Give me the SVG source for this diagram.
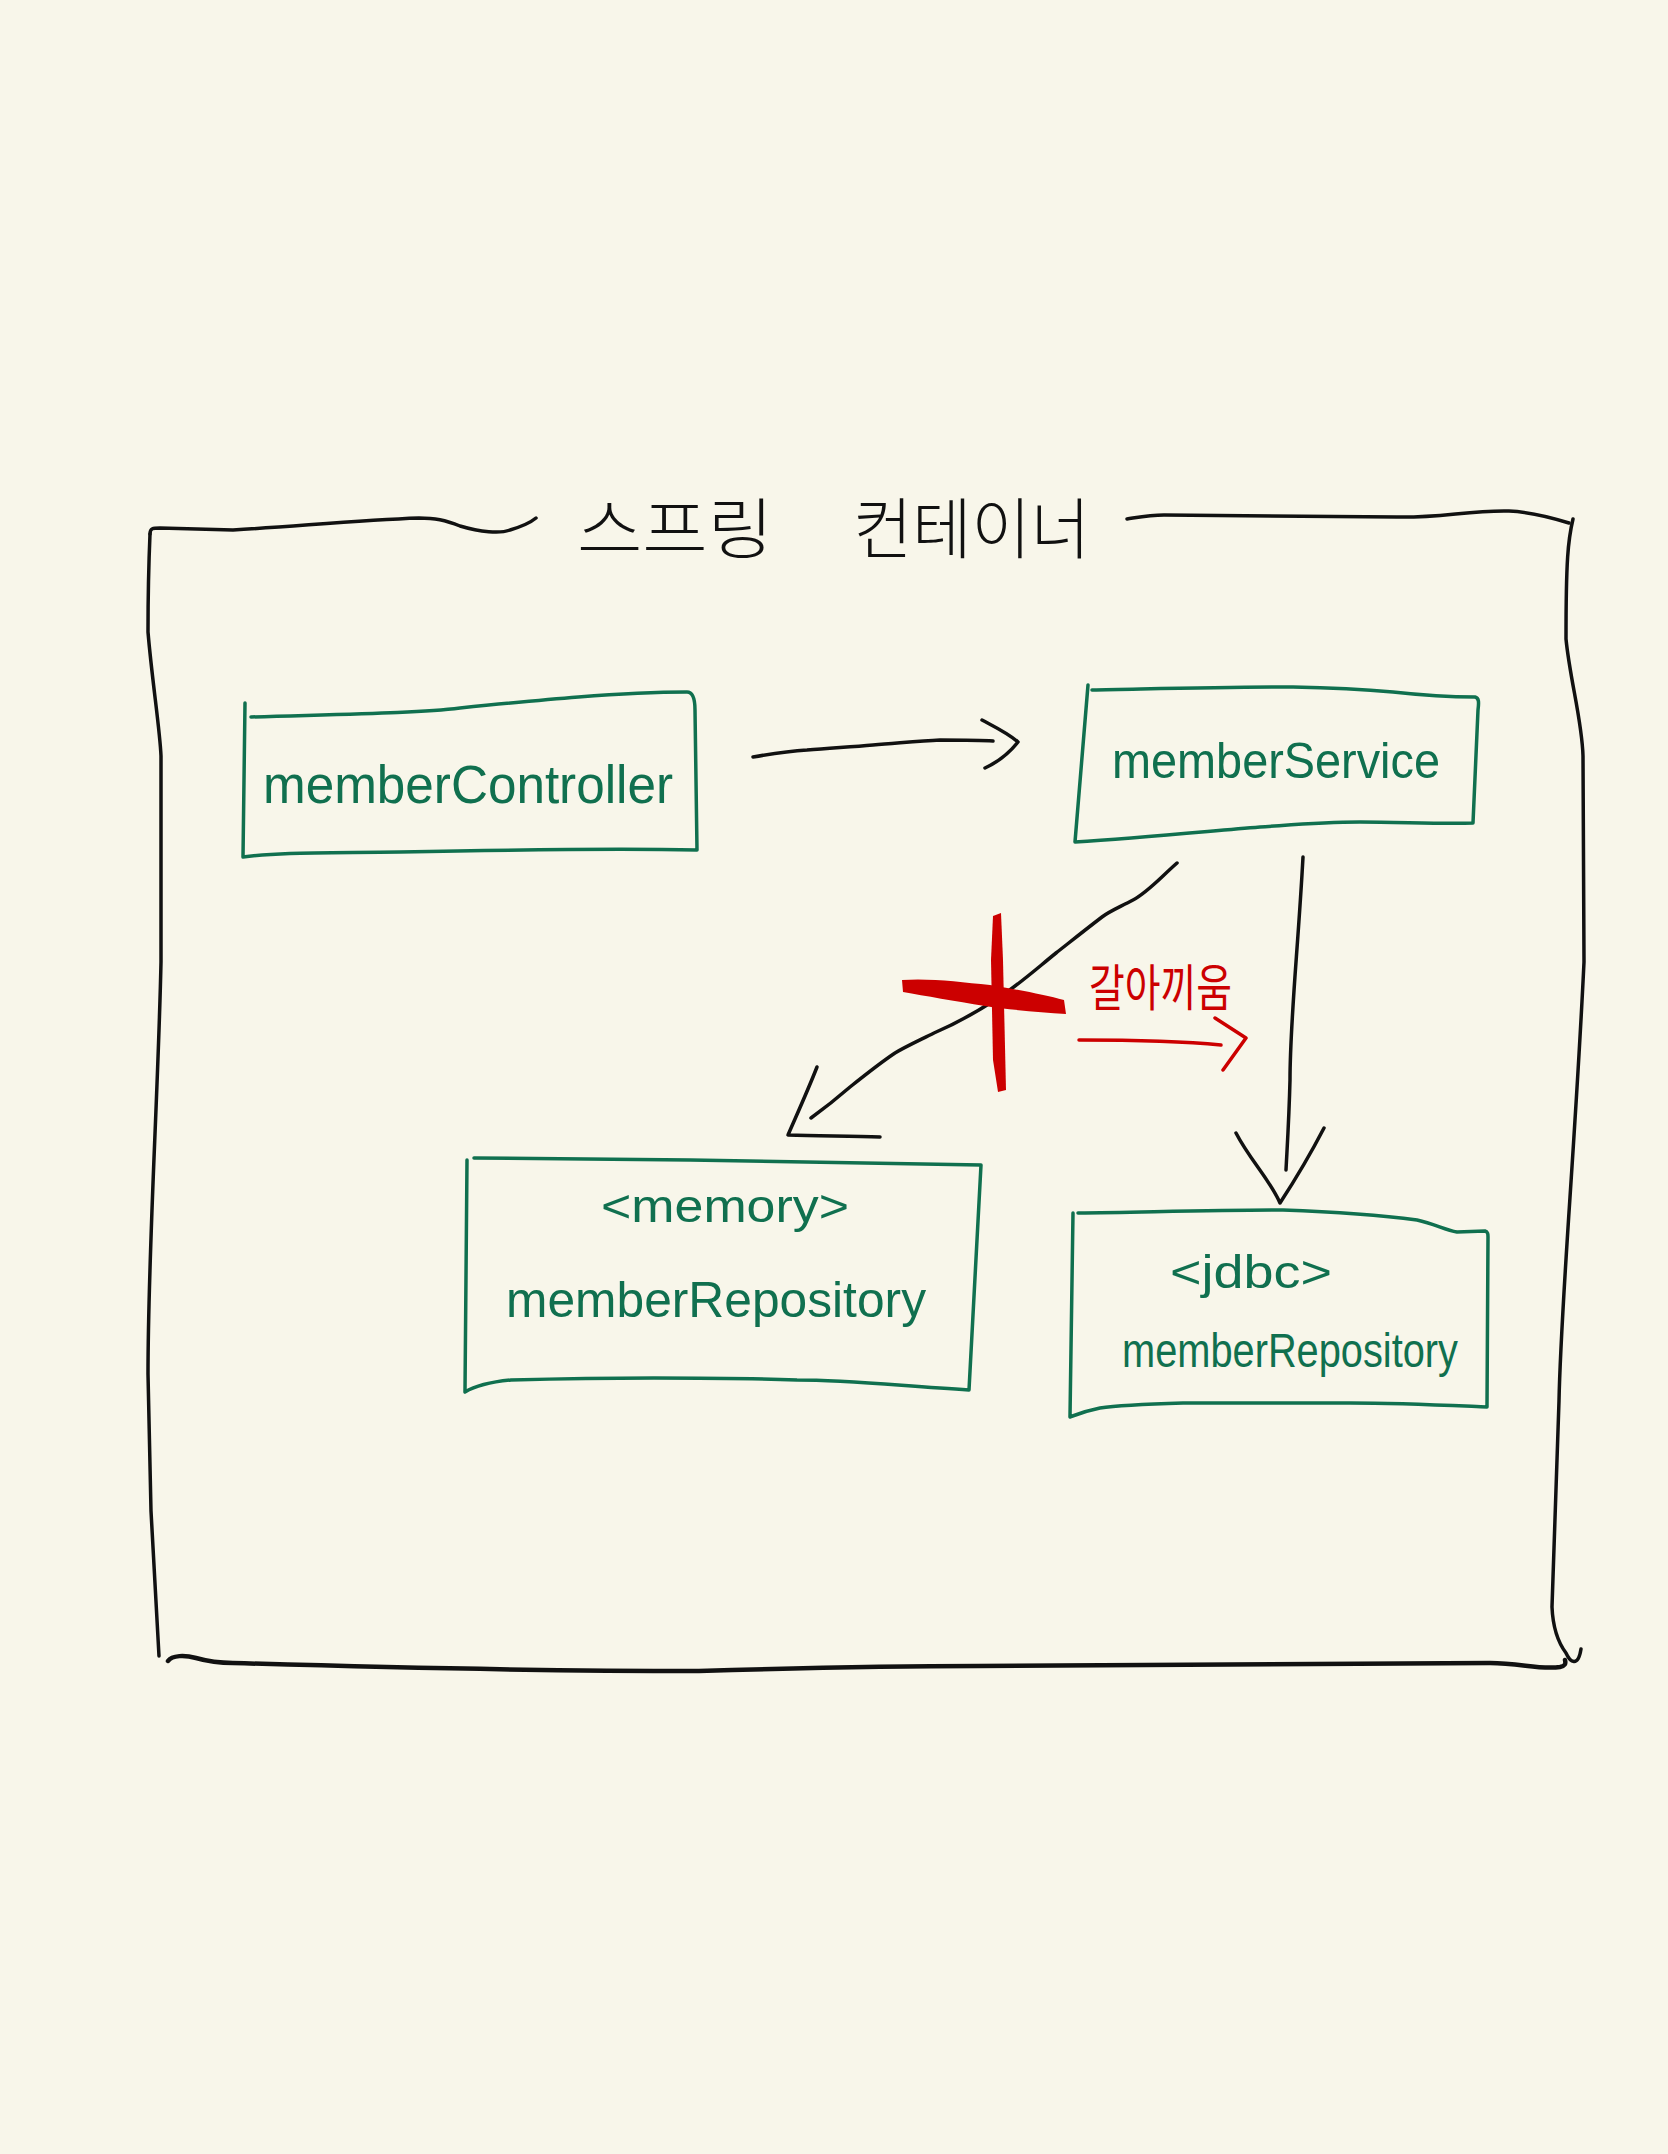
<svg xmlns="http://www.w3.org/2000/svg" width="1668" height="2154" viewBox="0 0 1668 2154">
<style>
.bg{fill:#f8f6ea}
.frame{fill:none;stroke:#111;stroke-width:3.5;stroke-linecap:round;stroke-linejoin:round}
.box{fill:none;stroke:#10704f;stroke-width:3.5;stroke-linecap:round;stroke-linejoin:round}
.lbl{font-family:"Liberation Sans","Noto Sans",sans-serif;fill:#10704f}
.title{font-family:"Noto Sans CJK KR",sans-serif;fill:#111;font-weight:300}
.conn{fill:none;stroke:#111;stroke-width:3.5;stroke-linecap:round;stroke-linejoin:round}
.red{fill:none;stroke:#cc0000;stroke-width:3.5;stroke-linecap:round;stroke-linejoin:round}
.redtxt{font-family:"Noto Sans CJK KR",sans-serif;fill:#cc0000}
</style>
<rect class="bg" x="0" y="0" width="1668" height="2154"/>
<g id="container">
<path class="frame" d="M150,534 C150,528 153,528 160,528 L233,530 C300,526 360,520 419,518 C435,518 445,520 460,526 C480,532 500,534 510,530 C520,527 530,523 536,518"/>
<path class="frame" d="M1127,519 C1140,517 1150,515 1164,515 L1397,517 C1440,518 1470,510 1509,511 C1530,512 1550,517 1569,523"/>
<path class="frame" d="M150,534 C148,580 148,620 148,632 C152,680 160,730 161,756 L161,962 C158,1100 148,1250 148,1374 L151,1511 L159,1656"/>
<path class="frame" d="M1573,519 C1568,540 1566,560 1566,639 C1570,680 1582,720 1583,756 L1584,962 C1575,1150 1561,1300 1559,1401 L1552,1607 C1553,1630 1560,1645 1566,1653 C1570,1662 1578,1668 1581,1649"/>
<path class="frame" style="stroke-width:4.5" d="M168,1661 C172,1655 185,1655 196,1658 C210,1662 220,1663 233,1663 C400,1668 550,1671 699,1671 C800,1668 900,1666 978,1666 L1490,1663 C1520,1663 1540,1670 1560,1667 C1565,1666 1566,1664 1565,1660"/>
<text class="title" font-size="66" y="553"><tspan x="577" textLength="196" lengthAdjust="spacingAndGlyphs">스프링</tspan><tspan x="853" textLength="237" lengthAdjust="spacingAndGlyphs">컨테이너</tspan></text>
</g>
<g id="memberController">
<path class="box" d="M251,717 C350,714 420,713 460,708 C540,700 620,692 687,692 C693,692 695,700 695,710 L697,850 C600,848 500,850 400,852 C320,853 280,852 243,857 L245,703"/>
<text class="lbl" x="263" y="803" font-size="54" textLength="410" lengthAdjust="spacingAndGlyphs">memberController</text>
</g>
<g id="memberService">
<path class="box" d="M1092,690 C1150,689 1220,687 1293,687 C1340,688 1370,690 1393,692 C1420,695 1450,697 1475,697 C1479,698 1479,702 1478,710 L1473,823 C1440,824 1400,822 1360,822 C1320,822 1290,825 1260,827 C1200,832 1140,838 1075,842 L1088,685"/>
<text class="lbl" x="1112" y="778" font-size="50" textLength="328" lengthAdjust="spacingAndGlyphs">memberService</text>
</g>
<g id="memoryRepository">
<path class="box" d="M474,1158 C550,1159 620,1160 690,1160 C790,1161 890,1163 981,1165 L969,1390 C900,1386 850,1380 797,1380 C740,1378 700,1378 654,1378 C600,1378 550,1379 511,1380 C490,1382 475,1386 465,1392 L467,1160"/>
<text class="lbl" x="601" y="1222" font-size="46" textLength="248" lengthAdjust="spacingAndGlyphs">&lt;memory&gt;</text>
<text class="lbl" x="506" y="1317" font-size="50" textLength="420" lengthAdjust="spacingAndGlyphs">memberRepository</text>
</g>
<g id="jdbcRepository">
<path class="box" d="M1078,1213 C1150,1212 1220,1210 1283,1210 C1340,1212 1380,1215 1417,1220 C1435,1224 1445,1230 1457,1232 L1485,1231 C1488,1232 1488,1234 1488,1237 L1487,1407 C1440,1405 1400,1403 1350,1403 L1183,1403 C1150,1404 1120,1405 1100,1408 C1085,1411 1078,1414 1070,1417 L1073,1213"/>
<text class="lbl" x="1170" y="1288" font-size="46" textLength="162" lengthAdjust="spacingAndGlyphs">&lt;jdbc&gt;</text>
<text class="lbl" x="1122" y="1367" font-size="48" textLength="336" lengthAdjust="spacingAndGlyphs">memberRepository</text>
</g>
<g id="connectors">
<path class="conn" d="M753,757 C770,754 790,751 807,750 C830,748 850,747 873,745 C900,743 920,741 940,740 C960,740 980,740 993,741"/>
<path class="conn" d="M982,720 C995,727 1008,733 1018,742 C1010,752 998,762 985,768"/>
<path class="conn" d="M1177,863 C1160,878 1148,892 1133,900 C1120,907 1110,911 1102,917 C1085,930 1070,942 1056,953 C1035,970 1015,988 995,1000 C975,1013 955,1024 934,1033 C918,1041 905,1047 895,1053 C880,1063 865,1075 850,1087 C835,1100 822,1110 811,1118"/>
<path class="conn" d="M817,1067 C808,1090 798,1112 788,1135 C820,1136 850,1136 880,1137"/>
<path class="conn" d="M1303,857 C1298,950 1290,1020 1290,1080 C1289,1120 1287,1150 1286,1170"/>
<path class="conn" d="M1236,1133 C1250,1160 1270,1180 1280,1203 C1295,1180 1310,1155 1324,1128"/>
</g>
<g id="replace">
<path d="M993,916 L1001,913 L1003,960 L1006,1090 L998,1092 L993,1060 L991,960 Z" fill="#cc0000"/>
<path d="M902,980 C930,978 960,982 990,985 C1020,990 1045,995 1064,1000 L1066,1014 C1040,1012 1010,1010 985,1006 C955,1001 925,996 903,992 Z" fill="#cc0000"/>
<text class="redtxt" x="1089" y="1006" font-size="50" textLength="143" lengthAdjust="spacingAndGlyphs">갈아끼움</text>
<path class="red" d="M1079,1040 C1120,1040 1180,1041 1221,1045"/>
<path class="red" d="M1215,1018 L1246,1038 L1223,1070"/>
</g>
</svg>
